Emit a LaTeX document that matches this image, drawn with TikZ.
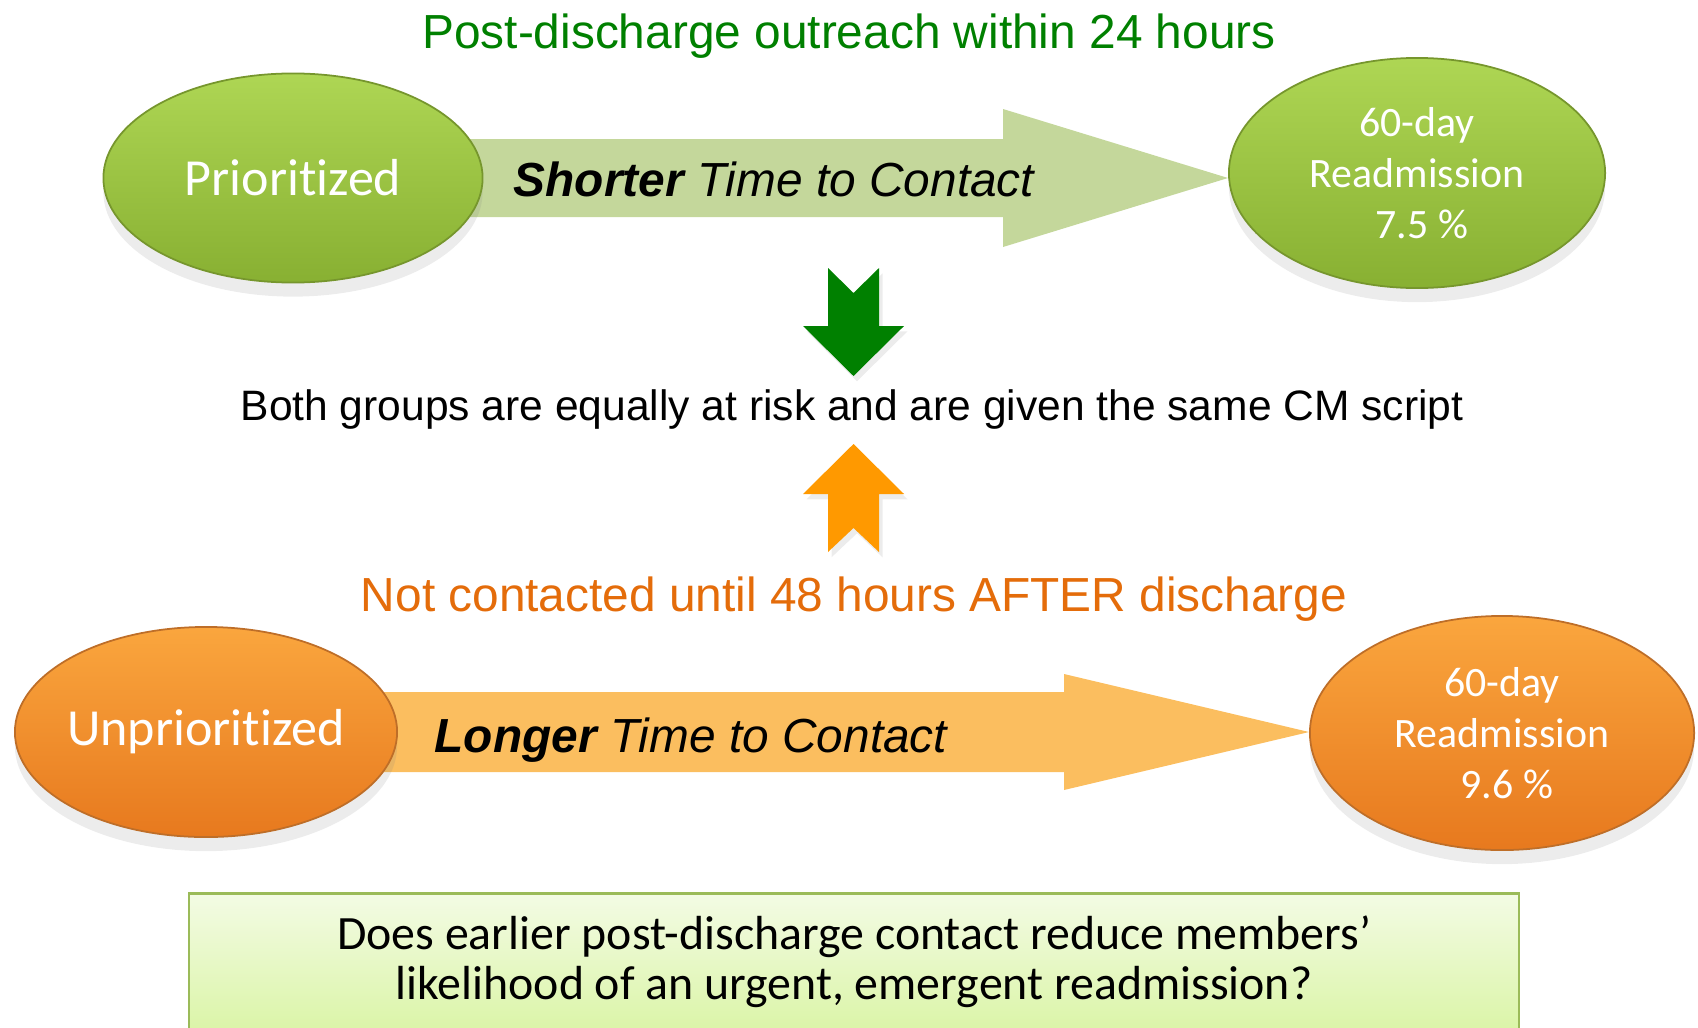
\documentclass[tikz,border=0pt]{standalone}
\usepackage{fontspec}
\setmainfont{Liberation Sans}
\newfontfamily\calibri[RawFeature={-liga;-clig;-calt;-dlig}]{Carlito}
\usetikzlibrary{positioning, calc, shapes.geometric, shadows, backgrounds}

\definecolor{titlegreen}{RGB}{0,128,0}
\definecolor{delayorange}{RGB}{228,108,10}
\definecolor{shortgreen}{RGB}{196,215,155}
\definecolor{longorange}{RGB}{251,190,95}
\definecolor{downgreen}{RGB}{0,128,0}
\definecolor{uporange}{RGB}{255,153,0}
\definecolor{boxborder}{RGB}{155,187,89}

\begin{document}
\begin{tikzpicture}[
        x=0.01cm, y=-0.01cm,
        group/.style={
          ellipse, align=center, text=white, inner sep=0pt, inner xsep=-3pt, line width=0.5pt,
          font=\calibri\fontsize{14.8}{17}\selectfont,
          drop shadow={opacity=0.15, shadow xshift=0pt, shadow yshift=-4pt}
        },
        greengroup/.style={
          group, draw={rgb,255:red,118;green,150;blue,45},
          top color={rgb,255:red,174;green,214;blue,84}, bottom color={rgb,255:red,136;green,176;blue,50}
        },
        orangegroup/.style={
          group, draw={rgb,255:red,190;green,110;blue,40},
          top color={rgb,255:red,250;green,166;blue,62}, bottom color={rgb,255:red,231;green,121;blue,30}
        },
        result/.style={
          font=\calibri\fontsize{11.9}{14.4}\selectfont
        },
        headline/.style={
          font=\fontsize{13.6}{16}\selectfont, inner sep=0pt
        },
        arrowtext/.style={
          headline, font=\fontsize{13.6}{16}\selectfont\itshape
        },
        questionbox/.style={
          align=center, minimum width=13.28cm, minimum height=1.36cm,
          top color={rgb,255:red,243;green,251;blue,228}, bottom color={rgb,255:red,219;green,245;blue,168},
          font=\calibri\fontsize{13.6}{14.2}\selectfont
        },
      ]
        \useasboundingbox (0,0) rectangle (1698,1027);

        % Groups
        \node [greengroup, minimum width=3.79cm, minimum height=2.09cm] (prio) at (293,178) {Prioritized};
        \node [greengroup, result, minimum width=3.76cm, minimum height=2.30cm] (prioresult) at (1417,173) {60-day\\Readmission\\ \ 7.5 \%};
        \node [orangegroup, minimum width=3.82cm, minimum height=2.10cm] (unprio) at (206,732) {Unprioritized};
        \node [orangegroup, result, minimum width=3.84cm, minimum height=2.34cm] (unpriores) at (1502,733) {60-day\\Readmission\\ \ 9.6 \%};

        % Time to contact
        \begin{scope}[on background layer]
          \coordinate (shorttip) at (prioresult.west |- prio.center);
          \fill [shortgreen] ($(prio.center)+(0,-39)$) -- ($(shorttip)+(-225,-39)$) -- ($(shorttip)+(-225,-69)$) -- (shorttip)
            -- ($(shorttip)+(-225,69)$) -- ($(shorttip)+(-225,39)$) -- ($(prio.center)+(0,39)$) -- cycle;
          \coordinate (longtip) at (unpriores.west |- unprio.center);
          \fill [longorange] ($(unprio.center)+(0,-40)$) -- ($(longtip)+(-245,-40)$) -- ($(longtip)+(-245,-58)$) -- (longtip)
            -- ($(longtip)+(-245,58)$) -- ($(longtip)+(-245,40)$) -- ($(unprio.center)+(0,40)$) -- cycle;
        \end{scope}
        \node [arrowtext, anchor=base] (shorter) at (774,196) {\textbf{Shorter} Time to Contact};
        \node [arrowtext, anchor=base] (longer) at (691,752) {\textbf{Longer} Time to Contact};

        % Headlines
        \node [headline, text=titlegreen, anchor=base] (outreach) at (849,48) {Post-discharge outreach within 24 hours};
        \node [headline, font=\fontsize{12.1}{14}\selectfont, anchor=base] (equal) at (852,420) {Both groups are equally at risk and are given the same CM script};
        \node [headline, text=delayorange, anchor=base] (delay) at (854,611) {Not contacted until 48 hours AFTER discharge};

        % Block arrows
        \fill [downgreen, drop shadow={opacity=0.15, shadow xshift=1pt, shadow yshift=-1.5pt}]
          (828,268) -- (853.5,293) -- (879,268) -- (879,326) -- (904,326) -- (853.5,376) -- (803,326) -- (828,326) -- cycle;
        \fill [uporange, drop shadow={opacity=0.15, shadow xshift=1pt, shadow yshift=-1.5pt}]
          (853.5,444) -- (904,494) -- (879,494) -- (879,552) -- (853.5,528) -- (828,552) -- (828,494) -- (803,494) -- cycle;

        % Question
        \node [questionbox] (question) at (854,962) {Does earlier post-discharge contact reduce members’\\likelihood of an urgent, emergent readmission?};
        \draw [boxborder, line width=0.7pt] (question.south west) -- (question.north west) -- (question.north east) -- (question.south east);

      \end{tikzpicture}
\end{document}
